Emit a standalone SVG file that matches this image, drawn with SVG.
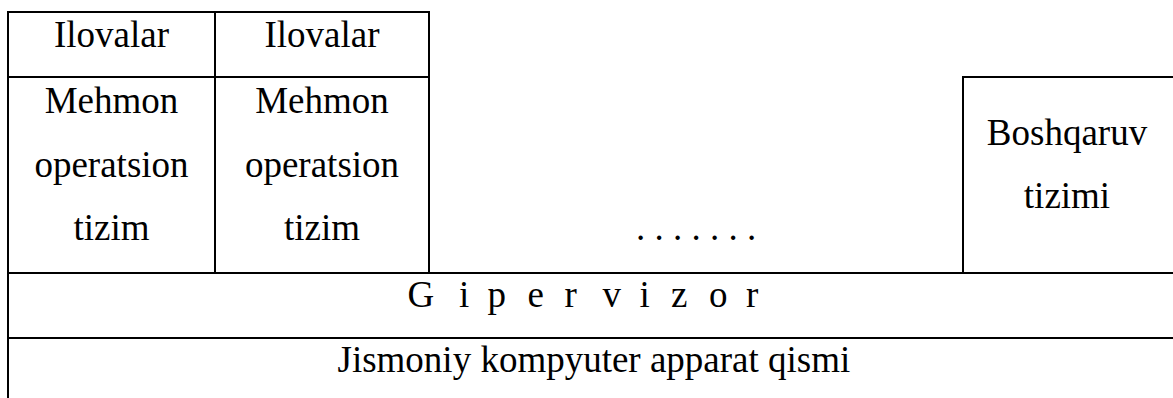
<svg xmlns="http://www.w3.org/2000/svg" width="1173" height="398" viewBox="0 0 1173 398">
<style>
  .ln { stroke: #000; stroke-width: 2; fill: none; }
  .t { font-family: "Liberation Serif", "Times New Roman", serif; font-size: 37px; fill: #000; }
  .c { text-anchor: middle; }
</style>
<rect width="1173" height="398" fill="#fff"/>
<g id="connectors">
  <path class="ln" d="M8 398 V12 H429 V273"/>
  <path class="ln" d="M215 12 V273"/>
  <path class="ln" d="M8 77 H429"/>
  <path class="ln" d="M1173 77 H963 V273"/>
  <path class="ln" d="M8 273 H1173"/>
  <path class="ln" d="M8 338 H1173"/>
</g>
<g id="app1"><text class="t c" x="111.5" y="47">Ilovalar</text></g>
<g id="app2"><text class="t c" x="322" y="47">Ilovalar</text></g>
<g id="guest1">
  <text class="t c" x="111.5" y="113">Mehmon</text>
  <text class="t c" x="111.5" y="177">operatsion</text>
  <text class="t c" x="111.5" y="240">tizim</text>
</g>
<g id="guest2">
  <text class="t c" x="322" y="113">Mehmon</text>
  <text class="t c" x="322" y="177">operatsion</text>
  <text class="t c" x="322" y="240">tizim</text>
</g>
<g id="more"><text class="t c" x="696" y="240">. . . . . . .</text></g>
<g id="control">
  <text class="t c" x="1067" y="145">Boshqaruv</text>
  <text class="t c" x="1067" y="208">tizimi</text>
</g>
<g id="hypervisor">
  <text class="t"><tspan x="407.5" y="307">G</tspan><tspan x="459">i</tspan><tspan x="487.5">p</tspan><tspan x="527.5">e</tspan><tspan x="564.5">r</tspan><tspan x="602.5">v</tspan><tspan x="639.5">i</tspan><tspan x="671">z</tspan><tspan x="709">o</tspan><tspan x="746">r</tspan></text>
</g>
<g id="hardware"><text class="t" x="337.5" y="372">Jismoniy kompyuter apparat qismi</text></g>
</svg>
